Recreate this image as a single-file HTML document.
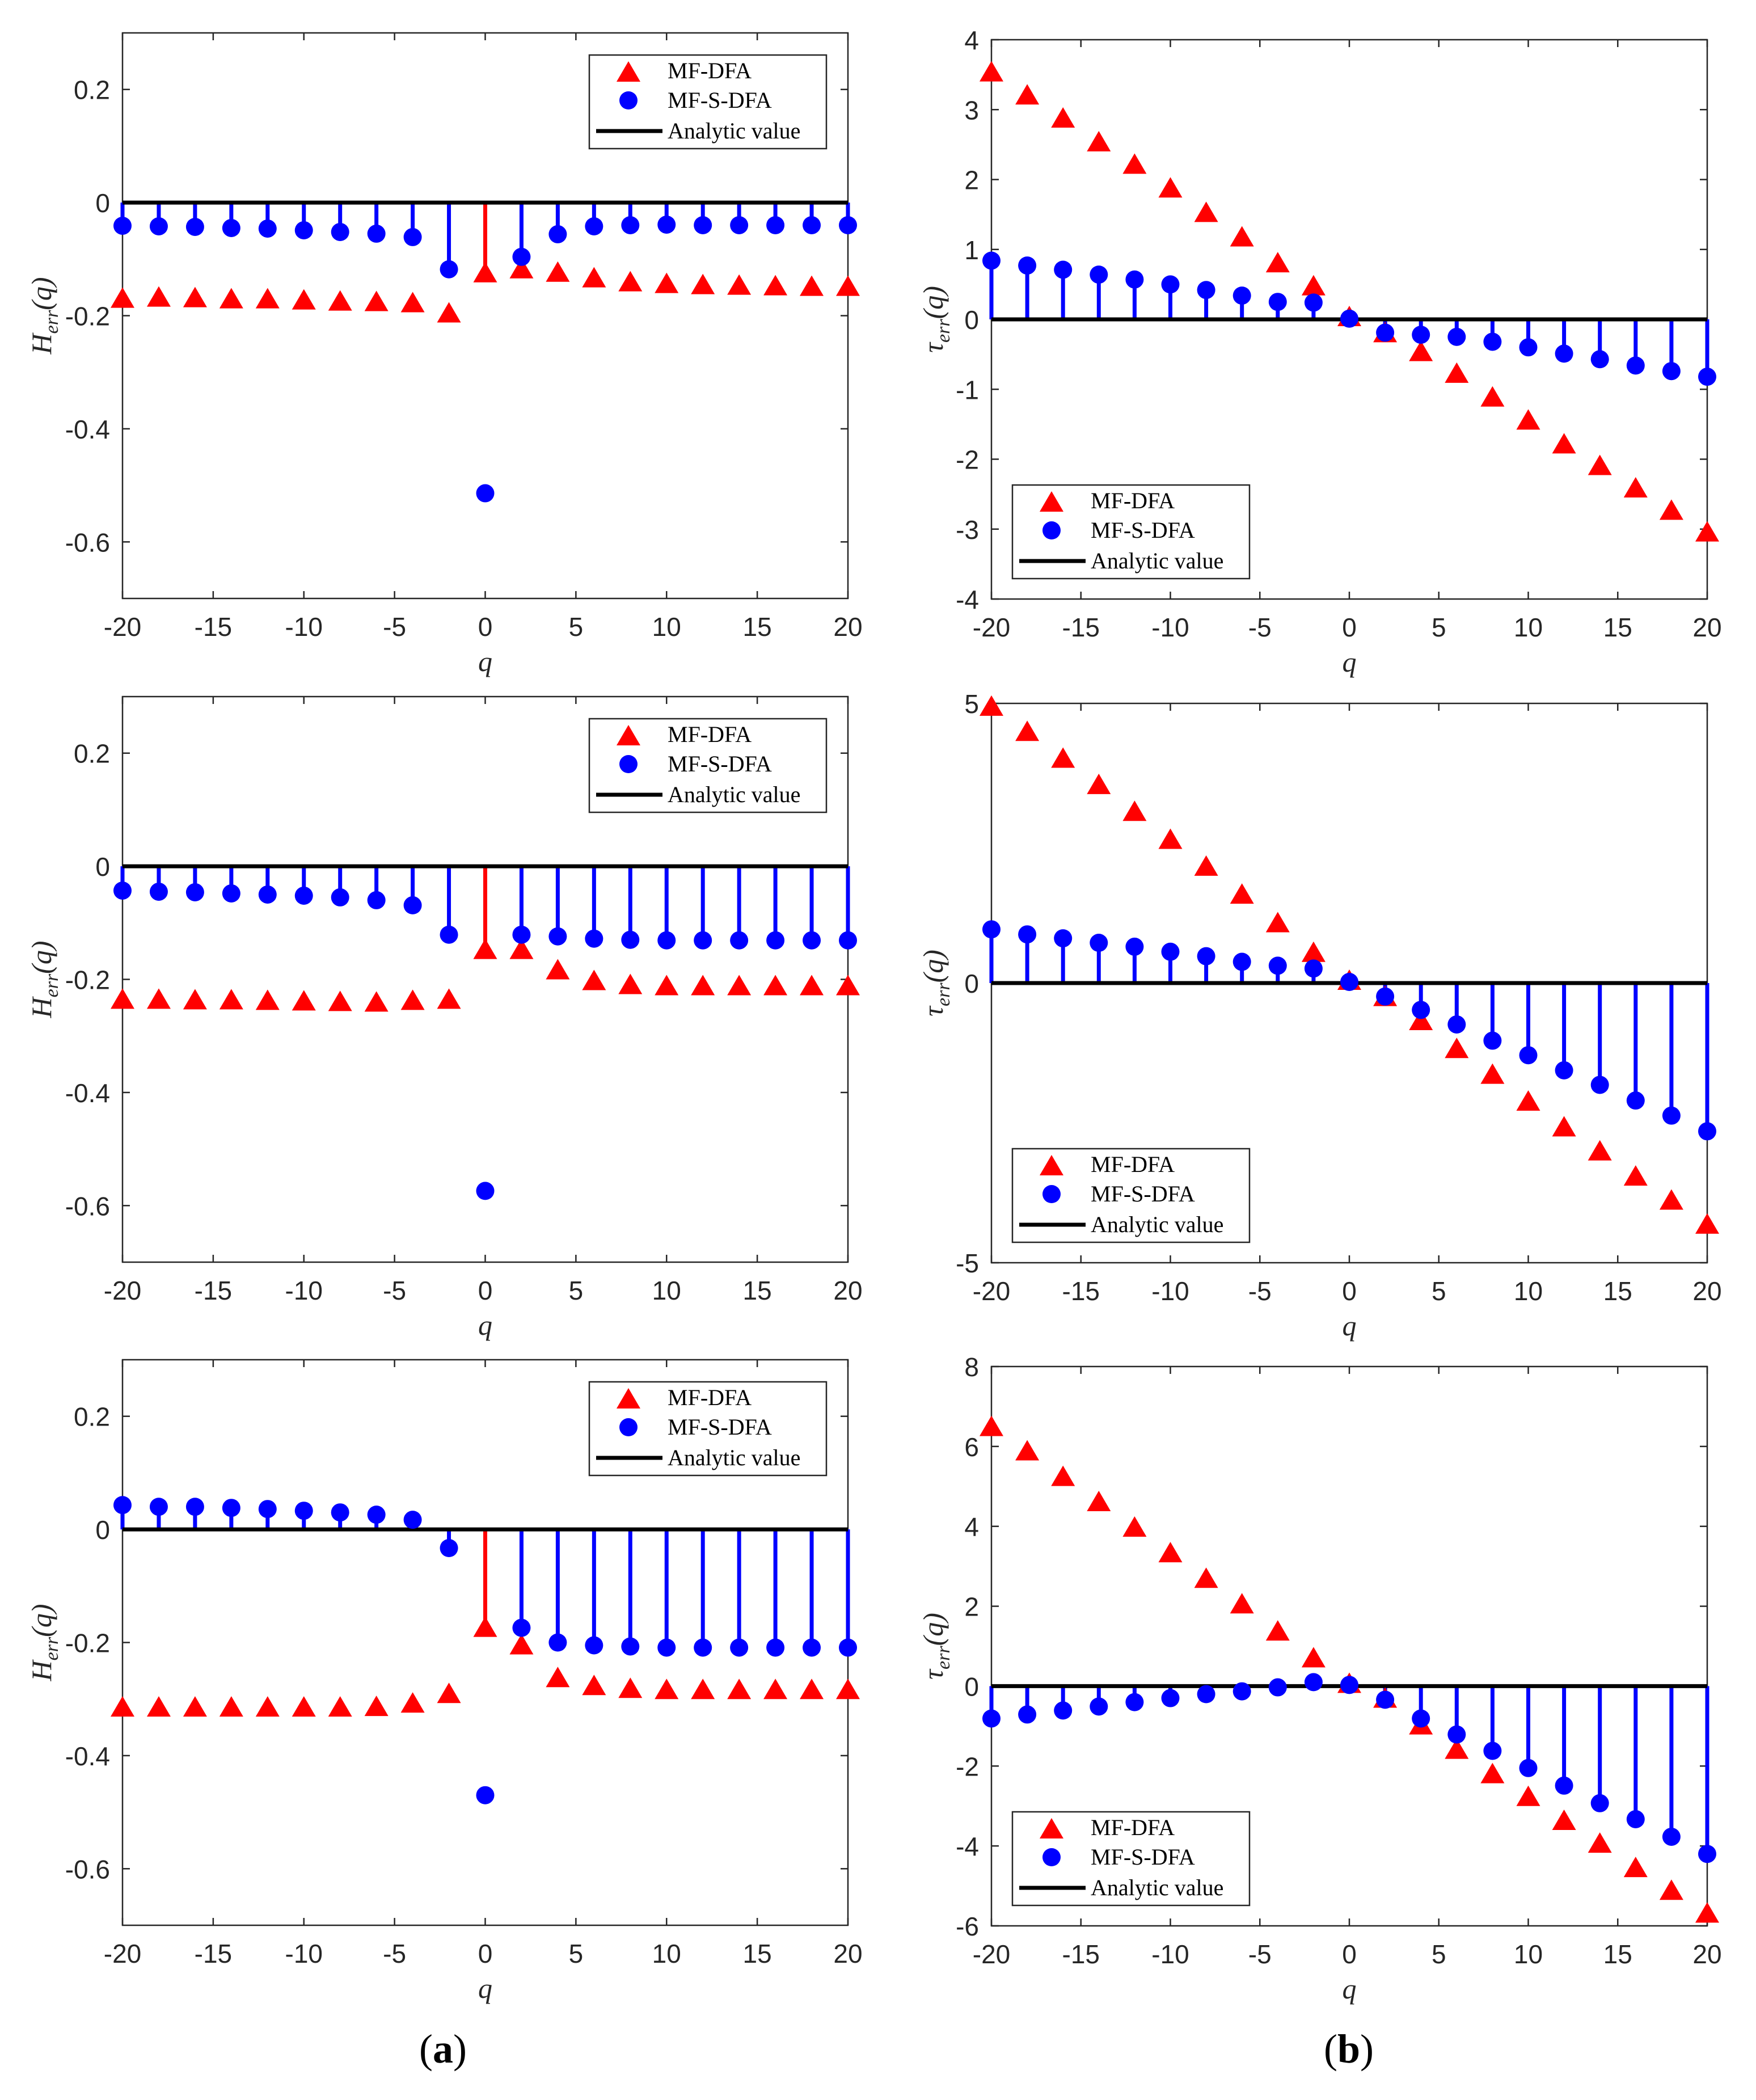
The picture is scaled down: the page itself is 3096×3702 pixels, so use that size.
<!DOCTYPE html>
<html><head><meta charset="utf-8">
<style>
html,body{margin:0;padding:0;background:#fff;}
svg{display:block;}
.tick{font-family:"Liberation Sans",sans-serif;font-size:46px;fill:#262626;}
.leg{font-family:"Liberation Serif",serif;font-size:40px;fill:#000;}
.lab{font-family:"Liberation Serif",serif;font-style:italic;font-size:50px;fill:#262626;}
.cap{font-family:"Liberation Serif",serif;font-size:72px;fill:#000;}
</style></head>
<body>
<svg id="fig" width="3096" height="3702" viewBox="0 0 3096 3702" xmlns="http://www.w3.org/2000/svg">
<text class="cap" x="781" y="3636" text-anchor="middle">(<tspan font-weight="bold">a</tspan>)</text>
<text class="cap" x="2378" y="3636" text-anchor="middle">(<tspan font-weight="bold">b</tspan>)</text>
</svg>
<script>
const qValues = [-20,-18,-16,-14,-12,-10,-8,-6,-4,-2,0,2,4,6,8,10,12,14,16,18,20];
const xTicks = [-20,-15,-10,-5,0,5,10,15,20];

const h1Dfa = [-0.174,-0.172,-0.173,-0.175,-0.175,-0.177,-0.179,-0.18,-0.182,-0.2,-0.129,-0.122,-0.128,-0.138,-0.145,-0.148,-0.15,-0.151,-0.152,-0.153,-0.153];
const h1Sdfa = [-0.041,-0.042,-0.043,-0.045,-0.046,-0.049,-0.052,-0.055,-0.061,-0.118,-0.514,-0.096,-0.056,-0.042,-0.04,-0.039,-0.04,-0.04,-0.04,-0.04,-0.04];
const t1Dfa = [3.5,3.17,2.84,2.5,2.18,1.84,1.49,1.14,0.77,0.44,0,-0.23,-0.5,-0.81,-1.15,-1.48,-1.82,-2.13,-2.45,-2.77,-3.08];
const t1Sdfa = [0.84,0.77,0.71,0.64,0.57,0.5,0.42,0.34,0.25,0.24,0.01,-0.19,-0.22,-0.25,-0.32,-0.4,-0.49,-0.57,-0.66,-0.74,-0.82];

const h2Dfa = [-0.24,-0.24,-0.241,-0.241,-0.242,-0.243,-0.244,-0.245,-0.242,-0.24,-0.152,-0.152,-0.188,-0.207,-0.214,-0.216,-0.216,-0.216,-0.216,-0.216,-0.216];
const h2Sdfa = [-0.043,-0.045,-0.046,-0.048,-0.05,-0.052,-0.055,-0.06,-0.069,-0.121,-0.574,-0.121,-0.124,-0.128,-0.13,-0.131,-0.131,-0.131,-0.131,-0.131,-0.131];
const t2Dfa = [4.9,4.45,3.97,3.5,3.02,2.52,2.04,1.54,1.03,0.5,0,-0.29,-0.72,-1.22,-1.68,-2.16,-2.62,-3.05,-3.5,-3.93,-4.36];
const t2Sdfa = [0.96,0.87,0.8,0.72,0.65,0.56,0.48,0.38,0.31,0.26,0.02,-0.24,-0.48,-0.74,-1.03,-1.29,-1.56,-1.82,-2.1,-2.37,-2.65];

const h3Dfa = [-0.319,-0.319,-0.319,-0.319,-0.319,-0.319,-0.319,-0.318,-0.312,-0.295,-0.178,-0.209,-0.267,-0.281,-0.286,-0.288,-0.288,-0.288,-0.288,-0.288,-0.288];
const h3Sdfa = [0.043,0.04,0.04,0.038,0.036,0.033,0.03,0.026,0.017,-0.033,-0.47,-0.174,-0.2,-0.205,-0.207,-0.209,-0.209,-0.209,-0.209,-0.209,-0.209];
const t3Dfa = [6.43,5.82,5.18,4.55,3.91,3.27,2.63,1.99,1.31,0.64,0,-0.37,-1.04,-1.65,-2.26,-2.83,-3.43,-4.0,-4.61,-5.18,-5.75];
const t3Sdfa = [-0.81,-0.71,-0.61,-0.51,-0.4,-0.3,-0.2,-0.13,-0.03,0.1,0.03,-0.34,-0.81,-1.21,-1.62,-2.05,-2.49,-2.93,-3.33,-3.77,-4.2];

const hTicks = [0.2,0,-0.2,-0.4,-0.6];
const hTickLabels = ["0.2","0","-0.2","-0.4","-0.6"];
const t1Ticks = [4,3,2,1,0,-1,-2,-3,-4];
const t2Ticks = [5,0,-5];
const t3Ticks = [8,6,4,2,0,-2,-4,-6];

const NS = "http://www.w3.org/2000/svg";
const svg = document.getElementById('fig');
function mk(tag, attrs, parent){
  const e = document.createElementNS(NS, tag);
  for (const k in attrs) e.setAttribute(k, attrs[k]);
  (parent||svg).appendChild(e);
  return e;
}

function panel(o){
  const g = mk('g', {});
  
  
  const X = q => o.x0 + (q + 20) / 40 * (o.x1 - o.x0);
  const Y = v => o.y0 + (o.ymax - v) / (o.ymax - o.ymin) * (o.y1 - o.y0);
  const fr = mk('rect', {x:o.x0, y:o.y0, width:o.x1-o.x0, height:o.y1-o.y0, fill:'none', stroke:'#262626', 'stroke-width':2.5}, g);
  
  
  xTicks.forEach(t => {
    const x = X(t);
    mk('line', {x1:x, x2:x, y1:o.y1, y2:o.y1-13, stroke:'#262626','stroke-width':2.5}, g);
    mk('line', {x1:x, x2:x, y1:o.y0, y2:o.y0+13, stroke:'#262626','stroke-width':2.5}, g);
    const tx = mk('text', {x:x, y:o.y1+66, 'text-anchor':'middle', class:'tick'}, g);
    tx.textContent = String(t);
    
    
  });
  o.yTicks.forEach((t, i) => {
    const y = Y(t);
    mk('line', {x1:o.x0, x2:o.x0+13, y1:y, y2:y, stroke:'#262626','stroke-width':2.5}, g);
    mk('line', {x1:o.x1, x2:o.x1-13, y1:y, y2:y, stroke:'#262626','stroke-width':2.5}, g);
    const tx = mk('text', {x:o.x0-22, y:y+17, 'text-anchor':'end', class:'tick'}, g);
    tx.textContent = o.yLabels ? o.yLabels[i] : String(t);
    
    
  });
  const xl = mk('text', {x:(o.x0+o.x1)/2, y:o.y1+128, 'text-anchor':'middle', class:'lab'}, g);
  xl.textContent = 'q';
  
  
  const cy = (o.y0+o.y1)/2;
  const yl = mk('text', {x:0, y:0, 'text-anchor':'middle', class:'lab', transform:`translate(${o.labX},${cy}) rotate(-90)`}, g);
  
  
  const s1 = mk('tspan', {}, yl); s1.textContent = o.sym;
  const s2 = mk('tspan', {dy:12, 'font-size':34}, yl); s2.textContent = 'err';
  const s3 = mk('tspan', {dy:-12}, yl); s3.textContent = '(q)';
  qValues.forEach((q, i) => {
    if (o.left && q === 0) {
      const st = mk('line', {x1:X(q), x2:X(q), y1:Y(0), y2:Y(o.dfa[i]), stroke:'#ff0000','stroke-width':7}, g);
      
      
    } else if (q !== 0) {
      const st = mk('line', {x1:X(q), x2:X(q), y1:Y(0), y2:Y(o.sdfa[i]), stroke:'#0000ff','stroke-width':7}, g);
      
      
    }
  });
  const zl = mk('line', {x1:o.x0, x2:o.x1, y1:Y(0), y2:Y(0), stroke:'#000','stroke-width':7}, g);
  
  
  qValues.forEach((q, i) => {
    const x = X(q), y = Y(o.dfa[i]);
    const tri = mk('polygon', {points:`${x},${y-24} ${x-21},${y+12} ${x+21},${y+12}`, fill:'#ff0000'}, g);
    
    
  });
  qValues.forEach((q, i) => {
    const c = mk('circle', {cx:X(q), cy:Y(o.sdfa[i]), r:16, fill:'#0000ff'}, g);
    
    
  });
  const L = o.leg;
  const lg = mk('g', {}, g);
  
  
  mk('rect', {x:L.x, y:L.y, width:418, height:165, fill:'#fff', stroke:'#262626','stroke-width':2.5}, lg);
  const mx = L.x + 69, tx = L.x + 138;
  mk('polygon', {points:`${mx},${L.y+11} ${mx-21},${L.y+47} ${mx+21},${L.y+47}`, fill:'#ff0000'}, lg);
  mk('circle', {cx:mx, cy:L.y+80, r:16, fill:'#0000ff'}, lg);
  mk('line', {x1:L.x+12, x2:L.x+129, y1:L.y+134, y2:L.y+134, stroke:'#000','stroke-width':7}, lg);
  const e1 = mk('text', {x:tx, y:L.y+41, class:'leg'}, lg); e1.textContent = 'MF-DFA';
  
  
  const e2 = mk('text', {x:tx, y:L.y+93, class:'leg'}, lg); e2.textContent = 'MF-S-DFA';
  
  
  const e3 = mk('text', {x:tx, y:L.y+147, class:'leg'}, lg); e3.textContent = 'Analytic value';
  
  
}

const rowOff = [0, 1170, 2339];
const hData = [[h1Dfa,h1Sdfa],[h2Dfa,h2Sdfa],[h3Dfa,h3Sdfa]];
const tData = [[t1Dfa,t1Sdfa,t1Ticks,4,-4],[t2Dfa,t2Sdfa,t2Ticks,5,-5],[t3Dfa,t3Sdfa,t3Ticks,8,-6]];
for (let r = 0; r < 3; r++) {
  const d = rowOff[r];
  panel({name:'h-err-panel-'+(r+1), left:true, x0:216, x1:1495, y0:58+d, y1:1055+d, ymax:0.3, ymin:-0.7,
    yTicks:hTicks, yLabels:hTickLabels, dfa:hData[r][0], sdfa:hData[r][1], labX:90, sym:'H',
    leg:{x:1039, y:97+d}});
  panel({name:'tau-err-panel-'+(r+1), left:false, x0:1748, x1:3010, y0:70+d, y1:1056+d, ymax:tData[r][3], ymin:tData[r][4],
    yTicks:tData[r][2], dfa:tData[r][0], sdfa:tData[r][1], labX:1662, sym:'τ',
    leg:{x:1785, y:855+d}});
}
</script>
</body></html>
